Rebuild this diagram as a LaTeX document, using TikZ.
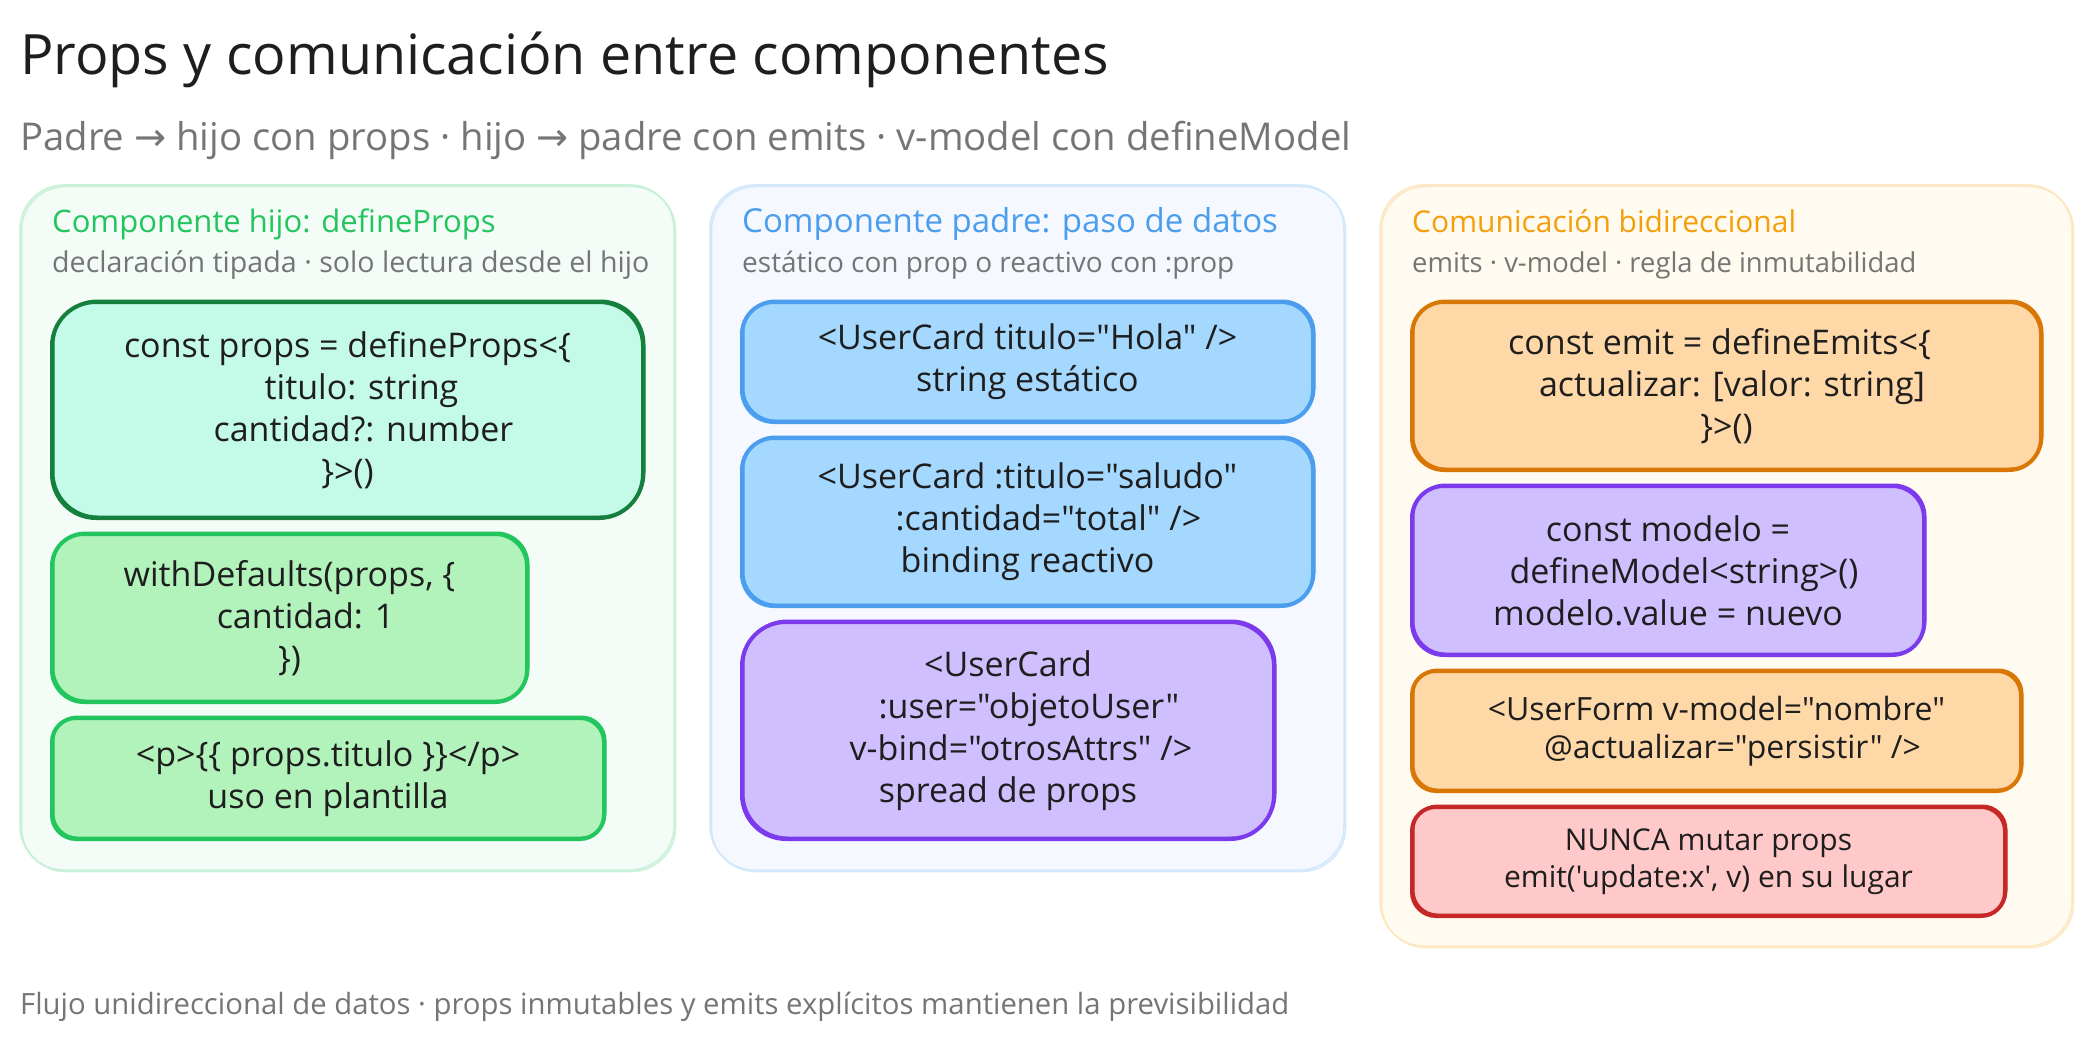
\documentclass[tikz,border=0pt]{standalone}
\usepackage{fontspec}
\setmainfont[Ligatures=TeXOff]{Open Sans}
\newfontfamily\arrowfont{DejaVu Sans}
\usetikzlibrary{positioning}
\definecolor{tinta}{HTML}{1E1E1E}
\definecolor{gris}{HTML}{757575}
\definecolor{verde}{HTML}{22C55E}
\definecolor{azul}{HTML}{4A9EED}
\definecolor{ambar}{HTML}{F59E0B}
\definecolor{mintstroke}{HTML}{15803D}
\definecolor{mintfill}{HTML}{C3FAE8}
\definecolor{pradofill}{HTML}{B2F2BB}
\definecolor{cielofill}{HTML}{A5D8FF}
\definecolor{lilafill}{HTML}{D0BFFF}
\definecolor{lilastroke}{HTML}{7C3AED}
\definecolor{naranjafill}{HTML}{FFD8A8}
\definecolor{naranjastroke}{HTML}{D97706}
\definecolor{rojofill}{HTML}{FFC9C9}
\definecolor{rojostroke}{HTML}{C62828}
\definecolor{panelverde}{HTML}{F3FCF6}
\definecolor{panelazul}{HTML}{F5F8FF}
\definecolor{panelambar}{HTML}{FFFBF0}
\tikzset{
    panel/.style n args={2}{draw=#1, fill=#2, line width=1.5pt, rounded corners=44pt, anchor=north west, inner sep=0pt, outer sep=0pt,
        postaction={draw, transform canvas={xshift=1.5pt, yshift=-1.5pt}}},
    caja/.style n args={2}{draw=#1, fill=#2, line width=4pt, rounded corners=32pt, anchor=north west, inner sep=0pt, outer sep=0pt,
        align=center, text=tinta, font=\fontsize{34}{42}\selectfont,
        postaction={draw, line width=2pt, transform canvas={xshift=1.5pt, yshift=1.5pt}}},
    mint/.style={caja={mintstroke}{mintfill}},
    prado/.style={caja={verde}{pradofill}},
    cielo/.style={caja={azul}{cielofill}},
    lila/.style={caja={lilastroke}{lilafill}},
    naranja/.style={caja={naranjastroke}{naranjafill}},
    rojo/.style={caja={rojostroke}{rojofill}},
    titulo/.style={anchor=base west, inner sep=0pt, text=tinta, font=\fontsize{55.6}{60}\selectfont},
    nota/.style={anchor=base west, inner sep=0pt, text=gris},
    cabecera/.style 2 args={anchor=base west, inner sep=0pt, text=#1, font=\fontsize{#2}{34}\selectfont},
    detalle/.style={nota, font=\fontsize{#1}{32}\selectfont},
}
\begin{document}
\begin{tikzpicture}[x=1pt, y=-1pt, node distance=16pt]
    \useasboundingbox (0,0) rectangle (2092,1043);

    % Titoli
    \node[titulo] (tit) at (20,75) {Props y comunicación entre componentes};
    \node[nota, font=\fontsize{38.3}{42}\selectfont] (sub) at (20,151)
        {Padre {\arrowfont →} hijo con props · hijo {\arrowfont →} padre con emits · v-model con defineModel};
    \node[nota, font=\fontsize{29.3}{34}\selectfont] (pie) at (20,1014)
        {Flujo unidireccional de datos · props inmutables y emits explícitos mantienen la previsibilidad};

    % Pannelli
    \node[panel={verde!25}{panelverde}, minimum width=654pt, minimum height=685pt] (p1) at (20,185) {};
    \node[panel={azul!25}{panelazul}, minimum width=634pt, minimum height=685pt] (p2) at (710,185) {};
    \node[panel={ambar!25}{panelambar}, minimum width=692pt, minimum height=761pt] (p3) at (1380,185) {};

    % Colonna hijo
    \node[cabecera={verde}{31}] (h1) at (52,233) {Componente hijo: defineProps};
    \node[detalle=28.6] (d1) at (52,272) {declaración tipada · solo lectura desde el hijo};
    \node[mint, minimum width=591pt, minimum height=216pt, rounded corners=44pt] (a1) at (52,302)
        {const props = defineProps<\{\\ \hspace*{28pt}titulo: string\\ \hspace*{32pt}cantidad?: number\\ \}>()};
    \node[prado, minimum width=475pt, minimum height=168pt, below=of a1.south west, anchor=north west] (a2)
        {withDefaults(props, \{\\ \hspace*{32pt}cantidad: 1\\ \})};
    \node[prado, minimum width=552pt, minimum height=121pt, below=of a2.south west, anchor=north west, rounded corners=24pt] (a3)
        {<p>\{\{ props.titulo \}\}</p>\\ uso en plantilla};

    % Colonna padre
    \node[cabecera={azul}{33}] (h2) at (742,233) {Componente padre: paso de datos};
    \node[detalle=28] (d2) at (742,272) {estático con prop o reactivo con :prop};
    \node[cielo, minimum width=571pt, minimum height=120pt] (b1) at (742,302)
        {<UserCard titulo="Hola" />\\ string estático};
    \node[cielo, minimum width=571pt, minimum height=168pt, below=of b1.south west, anchor=north west] (b2)
        {<UserCard :titulo="saludo"\\ \hspace*{42pt}:cantidad="total" />\\ binding reactivo};
    \node[lila, minimum width=532pt, minimum height=217pt, below=of b2.south west, anchor=north west, rounded corners=44pt] (b3)
        {<UserCard\\ \hspace*{42pt}:user="objetoUser"\\ \hspace*{26pt}v-bind="otrosAttrs" />\\ spread de props};

    % Colonna bidireccional
    \node[cabecera={ambar}{30}] (h3) at (1412,233) {Comunicación bidireccional};
    \node[detalle=27.4] (d3) at (1412,272) {emits · v-model · regla de inmutabilidad};
    \node[naranja, minimum width=629pt, minimum height=168pt] (c1) at (1412,302)
        {const emit = defineEmits<\{\hspace*{14pt}\\ \hspace*{11pt}actualizar: [valor: string]\\ \}>()};
    \node[lila, minimum width=512pt, minimum height=169pt, below=of c1.south west, anchor=north west] (c2)
        {const modelo =\\ \hspace*{32pt}defineModel<string>()\\ modelo.value = nuevo};
    \node[naranja, minimum width=609pt, minimum height=120pt, below=of c2.south west, anchor=north west, rounded corners=24pt,
        font=\fontsize{32}{38}\selectfont] (c3)
        {<UserForm v-model="nombre"\\ \hspace*{32pt}@actualizar="persistir" />};
    \node[rojo, minimum width=593pt, minimum height=109pt, below=of c3.south west, anchor=north west, rounded corners=24pt,
        font=\fontsize{30}{37}\selectfont] (c4)
        {NUNCA mutar props\\ emit('update:x', v) en su lugar};
\end{tikzpicture}
\end{document}
